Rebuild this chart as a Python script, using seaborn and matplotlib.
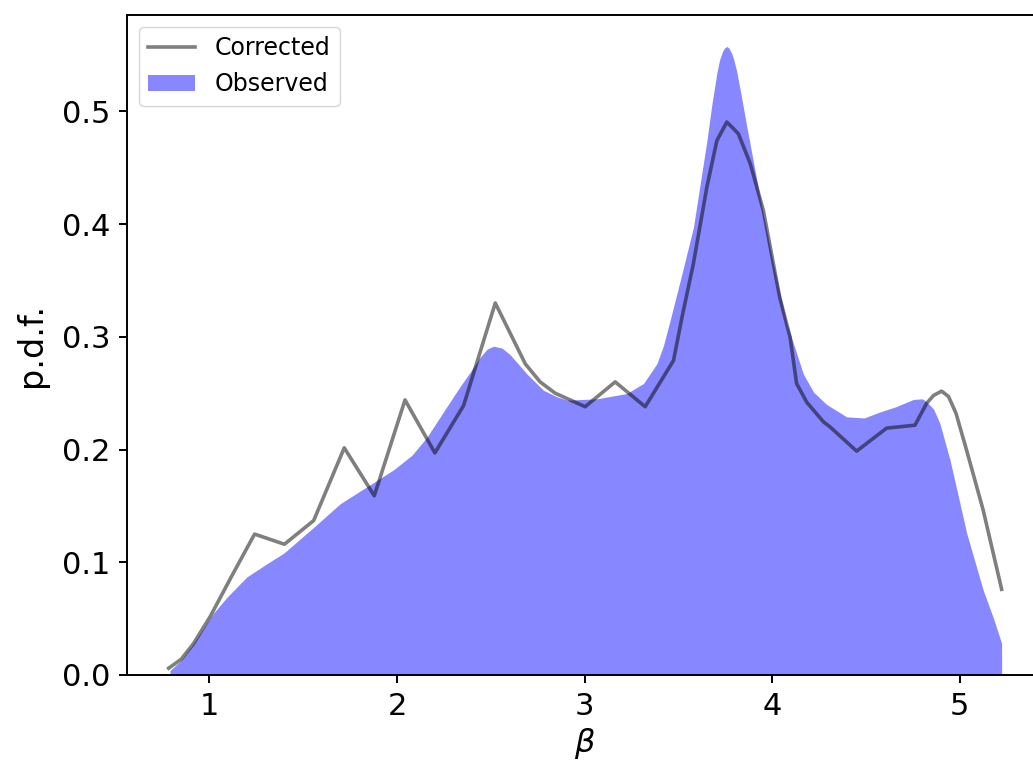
import matplotlib
matplotlib.use("Agg")
import matplotlib.pyplot as plt
import seaborn as sns
import pandas as pd

# Corrected p.d.f. (piecewise line)
corr_x = [0.783, 0.85, 0.916, 1.005, 1.12, 1.241, 1.40, 1.556, 1.719, 1.879,
          2.043, 2.202, 2.355, 2.524, 2.684, 2.763, 2.843, 3.003, 3.163, 3.323,
          3.474, 3.52, 3.58, 3.652, 3.705, 3.758, 3.794, 3.82, 3.883, 3.953,
          4.04, 4.095, 4.13, 4.184, 4.273, 4.309, 4.45, 4.61, 4.761, 4.823,
          4.86, 4.903, 4.94, 4.98, 5.036, 5.125, 5.223]
corr_y = [0.006, 0.014, 0.028, 0.052, 0.088, 0.125, 0.116, 0.137, 0.2015, 0.159,
          0.244, 0.197, 0.239, 0.330, 0.276, 0.260, 0.250, 0.238, 0.260, 0.238,
          0.279, 0.318, 0.365, 0.433, 0.474, 0.4905, 0.4846, 0.480, 0.4536, 0.412,
          0.335, 0.30, 0.2586, 0.242, 0.2246, 0.220, 0.1986, 0.219, 0.2216, 0.241,
          0.248, 0.2518, 0.247, 0.232, 0.1995, 0.146, 0.076]

# Observed p.d.f. (smooth, filled)
obs_x = [0.79, 0.85, 0.916, 1.023, 1.094, 1.2, 1.30, 1.396, 1.556, 1.698,
         1.84, 1.982, 2.08, 2.16, 2.25, 2.337, 2.40, 2.444, 2.48, 2.515, 2.56,
         2.604, 2.693, 2.78, 2.85, 2.906, 3.066, 3.225, 3.314, 3.385, 3.42, 3.456,
         3.51, 3.58, 3.652, 3.68, 3.705, 3.72, 3.735, 3.745, 3.758, 3.77, 3.785,
         3.795, 3.81, 3.835, 3.864, 3.935, 4.006, 4.078, 4.166, 4.22, 4.29,
         4.397, 4.49, 4.575, 4.66, 4.752, 4.80, 4.823, 4.86, 4.894, 4.948,
         5.037, 5.125, 5.18, 5.223]
obs_y = [0.004, 0.013, 0.028, 0.055, 0.069, 0.087, 0.098, 0.108, 0.131, 0.152,
         0.167, 0.182, 0.195, 0.211, 0.234, 0.256, 0.271, 0.282, 0.289, 0.2917, 0.290,
         0.284, 0.267, 0.2527, 0.247, 0.2438, 0.245, 0.2497, 0.2586, 0.276, 0.292, 0.3147,
         0.350, 0.397, 0.474, 0.508, 0.534, 0.546, 0.553, 0.556, 0.5576, 0.556, 0.551,
         0.546, 0.536, 0.514, 0.487, 0.424, 0.365, 0.312, 0.267,
         0.251, 0.240, 0.229, 0.228, 0.2334, 0.238, 0.2444, 0.245, 0.2423, 0.236,
         0.223, 0.1906, 0.1256, 0.075, 0.05, 0.028]

x_ticks = [1, 2, 3, 4, 5]
y_ticks = [0.0, 0.1, 0.2, 0.3, 0.4, 0.5]

corr_df = pd.DataFrame({"beta": corr_x, "pdf": corr_y})

fig = plt.figure(figsize=(10.33, 7.68), dpi=100)
ax = fig.add_axes([127 / 1033, 1 - 675 / 768, (1043.3 - 127) / 1033, (675 - 15) / 768])

sns.lineplot(data=corr_df, x="beta", y="pdf", ax=ax, color="black", alpha=0.5,
             linewidth=2.6, sort=False, label="Corrected")
ax.fill_between(obs_x, obs_y, color="blue", alpha=0.47, linewidth=0, label="Observed")

ax.set_ylim(0, max(obs_y) * 1.05)
ax.set_xticks(x_ticks)
ax.set_yticks(y_ticks)
ax.set_xticklabels([str(v) for v in x_ticks])
ax.set_yticklabels([f"{v:.1f}" for v in y_ticks])
ax.tick_params(labelsize=22, length=6, width=1.4, pad=6)
for s in ax.spines.values():
    s.set_linewidth(1.4)
ax.spines["right"].set_visible(False)

ax.legend(loc="upper left", fontsize=17)

ax.set_xlabel(r"$\beta$", fontsize=23, labelpad=4)
ax.set_ylabel("p.d.f.", fontsize=24, labelpad=10)

fig.savefig("out.png", dpi=100)
